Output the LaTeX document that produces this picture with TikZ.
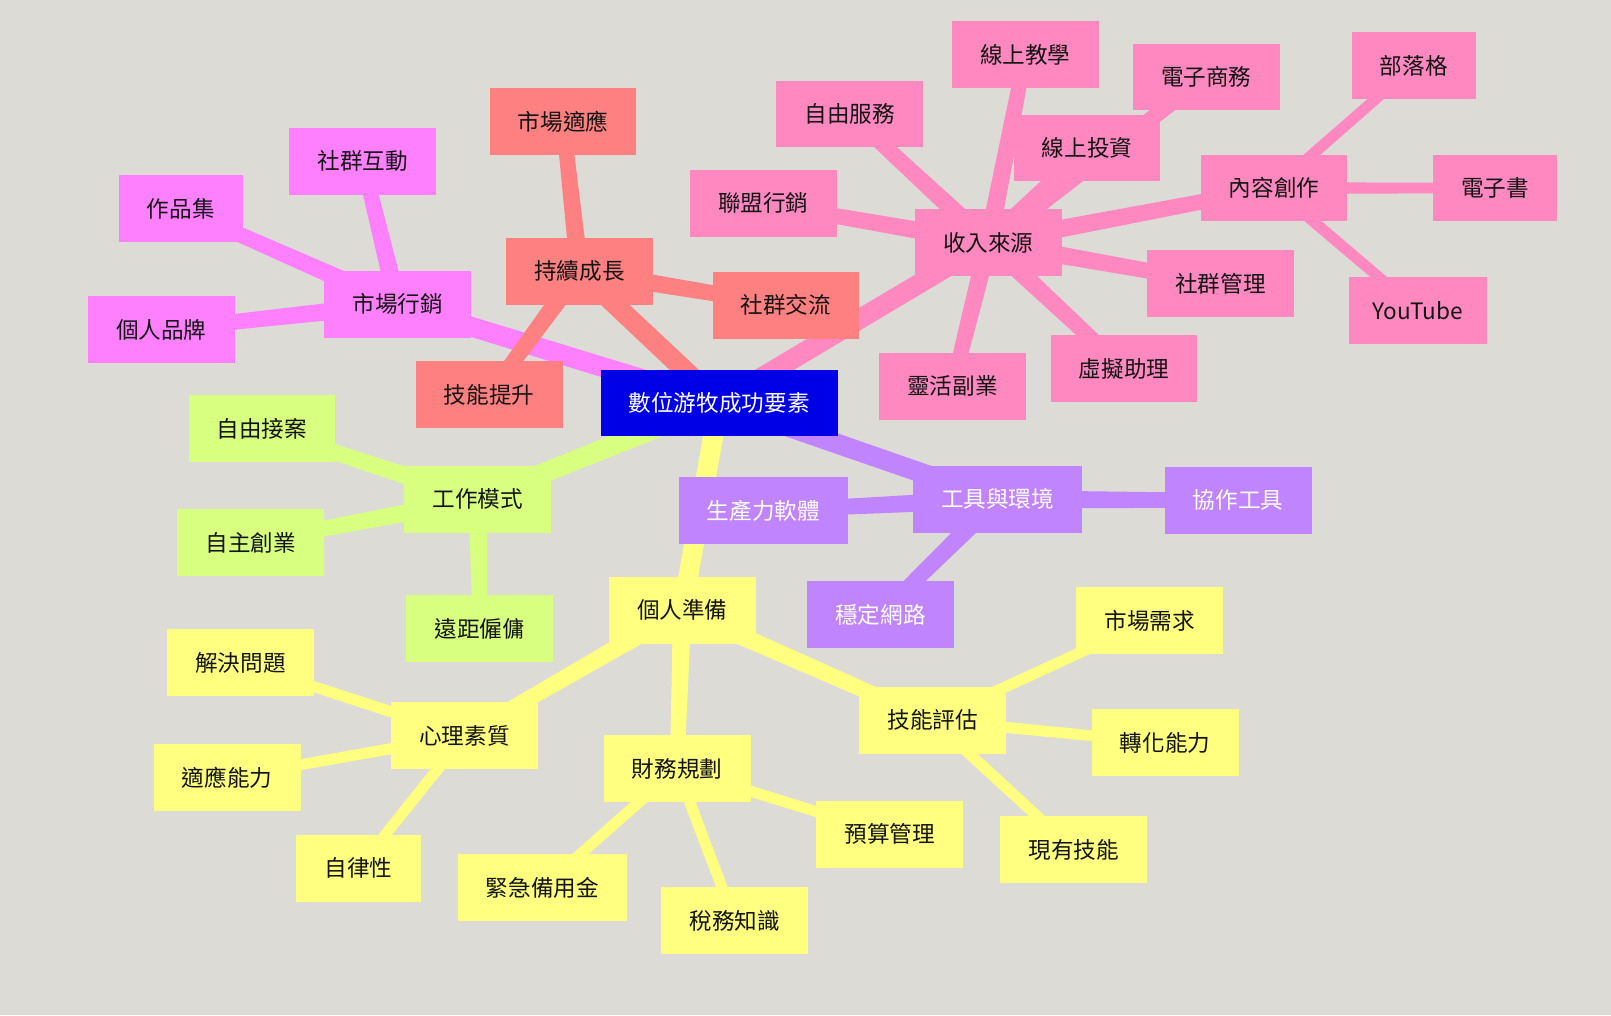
\documentclass[tikz,border=0pt]{standalone}
\usepackage{fontspec}
\newfontfamily\cjk{Noto Sans CJK TC}
\usetikzlibrary{calc}
\pgfdeclarelayer{bg}
\pgfdeclarelayer{edges}
\pgfsetlayers{bg,edges,main}
\definecolor{bgc}{HTML}{DCDBD6}
\definecolor{cpink}{HTML}{FF88C0}
\definecolor{csalmon}{HTML}{FF8080}
\definecolor{cmag}{HTML}{FF80FF}
\definecolor{cgreen}{HTML}{D8FF80}
\definecolor{cpurple}{HTML}{C084FF}
\definecolor{cyellow}{HTML}{FFFF80}
\definecolor{croot}{HTML}{0000E6}
\definecolor{ctext}{HTML}{141414}
\tikzset{
  box/.style={rectangle, minimum height=65pt, inner xsep=27.5pt, inner ysep=0pt,
    font=\cjk\fontsize{22}{26}\selectfont, text=ctext},
  rootbox/.style={box, fill=croot, text=white, minimum height=64pt},
  pinkbox/.style={box, fill=cpink},
  salbox/.style={box, fill=csalmon},
  magbox/.style={box, fill=cmag},
  greenbox/.style={box, fill=cgreen},
  purbox/.style={box, fill=cpurple, text=white},
  yelbox/.style={box, fill=cyellow},
}
\newcommand{\taper}[5]{%
  \fill[#5] ($(#1)!#3!90:(#2)$) -- ($(#2)!#4!-90:(#1)$) -- ($(#2)!#4!90:(#1)$) -- ($(#1)!#3!-90:(#2)$) -- cycle;}
\begin{document}
\begin{tikzpicture}[x=1pt,y=-1pt]
\begin{pgfonlayer}{bg}
\fill[bgc] (0,0) rectangle (1568,988);
\end{pgfonlayer}
\useasboundingbox (0,0) rectangle (1568,988);
% root
\node[rootbox] (root) at (700,392) {數位游牧成功要素};
% income
\node[pinkbox] (inc) at (962,236) {收入來源};
\node[pinkbox] (i1) at (998,53) {線上教學};
\node[pinkbox] (i2) at (1174,75) {電子商務};
\node[pinkbox] (i3) at (827,111) {自由服務};
\node[pinkbox] (i4) at (1058,144) {線上投資};
\node[pinkbox] (i5) at (743,198) {聯盟行銷};
\node[pinkbox] (i6) at (1240,183) {內容創作};
\node[pinkbox] (c1) at (1376,64) {部落格};
\node[pinkbox] (c2) at (1455,183) {電子書};
\node[pinkbox, inner xsep=0pt, minimum width=135pt] (c3) at (1380,302) {YouTube};
\node[pinkbox] (i7) at (1188,276) {社群管理};
\node[pinkbox] (i8) at (1094,359) {虛擬助理};
\node[pinkbox] (i9) at (927,376) {靈活副業};
% growth
\node[salbox] (grow) at (564,264) {持續成長};
\node[salbox] (g1) at (548,118) {市場適應};
\node[salbox] (g2) at (765,297) {社群交流};
\node[salbox] (g3) at (476,384) {技能提升};
% marketing
\node[magbox] (mkt) at (387,296) {市場行銷};
\node[magbox] (m1) at (353,157) {社群互動};
\node[magbox] (m2) at (176,203) {作品集};
\node[magbox] (m3) at (157,321) {個人品牌};
% work
\node[greenbox] (work) at (465,486) {工作模式};
\node[greenbox] (w1) at (255,417) {自由接案};
\node[greenbox] (w2) at (244,528) {自主創業};
\node[greenbox] (w3) at (467,612) {遠距僱傭};
% tools
\node[purbox] (tool) at (971,486) {工具與環境};
\node[purbox] (t1) at (743,497) {生產力軟體};
\node[purbox] (t2) at (1205,487) {協作工具};
\node[purbox] (t3) at (857,598) {穩定網路};
% preparation
\node[yelbox] (prep) at (664,594) {個人準備};
\node[yelbox] (p1) at (452,716) {心理素質};
\node[yelbox] (q1) at (234,645) {解決問題};
\node[yelbox] (q2) at (221,757) {適應能力};
\node[yelbox] (q3) at (349,845) {自律性};
\node[yelbox] (p2) at (659,748) {財務規劃};
\node[yelbox] (r1) at (528,864) {緊急備用金};
\node[yelbox] (r2) at (715,896) {稅務知識};
\node[yelbox] (r3) at (866,812) {預算管理};
\node[yelbox] (p3) at (908,701) {技能評估};
\node[yelbox] (s1) at (1119,604) {市場需求};
\node[yelbox] (s2) at (1134,723) {轉化能力};
\node[yelbox] (s3) at (1045,827) {現有技能};
% edges
\begin{pgfonlayer}{edges}
\foreach \c/\col in {inc/cpink, grow/csalmon, mkt/cmag, work/cgreen, tool/cpurple, prep/cyellow}
  {\taper{root}{\c}{9.8pt}{9.5pt}{\col}}
\foreach \c in {i1,i2,i3,i4,i5,i6,i7,i8,i9} {\taper{inc}{\c}{9pt}{7pt}{cpink}}
\foreach \c in {c1,c2,c3} {\taper{i6}{\c}{5.5pt}{5.2pt}{cpink}}
\foreach \c in {g1,g2,g3} {\taper{grow}{\c}{9pt}{7pt}{csalmon}}
\foreach \c in {m1,m2,m3} {\taper{mkt}{\c}{9pt}{7pt}{cmag}}
\foreach \c in {w1,w2,w3} {\taper{work}{\c}{9pt}{7pt}{cgreen}}
\foreach \c in {t1,t2,t3} {\taper{tool}{\c}{9pt}{7pt}{cpurple}}
\foreach \c in {p1,p2,p3} {\taper{prep}{\c}{9pt}{7pt}{cyellow}}
\foreach \c in {q1,q2,q3} {\taper{p1}{\c}{5.5pt}{5.2pt}{cyellow}}
\foreach \c in {r1,r2,r3} {\taper{p2}{\c}{5.5pt}{5.2pt}{cyellow}}
\foreach \c in {s1,s2,s3} {\taper{p3}{\c}{5.5pt}{5.2pt}{cyellow}}
\end{pgfonlayer}
\end{tikzpicture}
\end{document}
